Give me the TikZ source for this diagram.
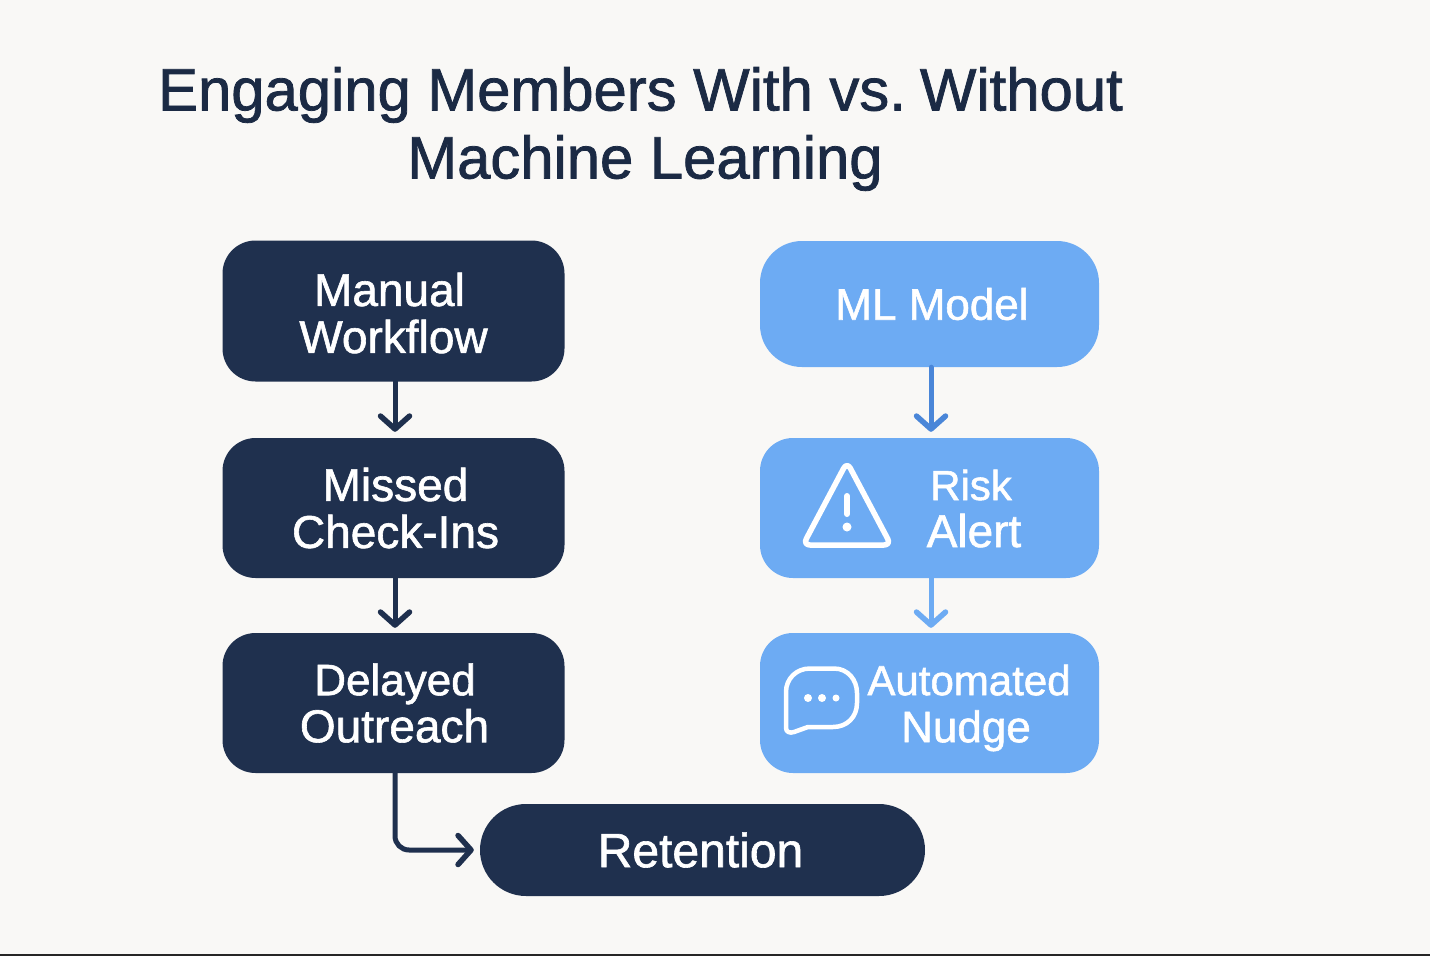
\documentclass[tikz,border=0pt]{standalone}
\usepackage{fontspec}
\setmainfont[FakeBold=1.3]{Liberation Sans}
\usetikzlibrary{arrows.meta}
\definecolor{bg}{HTML}{F9F8F6}
\definecolor{navy}{HTML}{1F304E}
\definecolor{sky}{HTML}{6DABF3}
\definecolor{midblue}{HTML}{4A86D8}
\definecolor{titlec}{HTML}{1B2A44}
\newcommand{\sh}[1]{\hspace*{#1pt}}
\newcommand{\fs}[1]{\fontsize{#1}{47}\selectfont}
\tikzset{x=1pt,y=-1pt,
 box/.style={rounded corners=33pt,inner sep=0,align=center,text=white,font=\fs{46}},
 navybox/.style={box,fill=navy},
 skybox/.style={box,fill=sky},
 arr/.style={line width=5pt,line cap=round,-{Straight Barb[length=13pt,width=29pt,line width=5.5pt,round]}},
 icon/.style={white,line width=5.5pt,line join=round,line cap=round},
}
\begin{document}
\begin{tikzpicture}
\useasboundingbox (0,0) rectangle (1430,956);
\fill[bg] (0,0) rectangle (1430,956);
\fill[black!85] (0,954) rectangle (1430,956);
\node[text=titlec,font=\fontsize{59.8}{68}\selectfont,align=center,anchor=center] (title) at (640.5,129) {Engaging Members With vs.\kern-2.5pt\ Without\\\sh{9}Machine Learning};
\node[navybox,minimum width=342pt,minimum height=141pt] (a1) at (393.5,311) {};
\node[box] (a1t) at (393.5,313) {\sh{-8}Manual\\Workflow};
\node[navybox,minimum width=342pt,minimum height=140pt] (a2) at (393.5,508) {\sh{4}Missed\\\sh{4}Check-Ins};
\node[navybox,minimum width=342pt,minimum height=140pt] (a3) at (393.5,703) {\sh{3}\fs{44}Delayed\\\sh{2}\fs{46}Outreach};
\node[navybox,minimum width=445pt,minimum height=92pt,rounded corners=46pt] (ret) at (702.5,850) {\sh{-4}\fs{48}Retention};
\node[skybox,minimum width=339pt,minimum height=126pt,rounded corners=42pt] (b1) at (929.5,304) {\sh{5}\fs{44}ML Model};
\node[skybox,minimum width=339pt,minimum height=140pt] (b2) at (929.5,508) {};
\node[skybox,minimum width=339pt,minimum height=140pt] (b3) at (929.5,703) {};
\node[text=white,font=\fs{46},align=center] (b2t) at (973,508.5) {\sh{-4}\fs{42}Risk\\\sh{2}\fs{46}Alert};
\node[text=white,font=\fs{44},align=center] (b3t) at (968,708) {\sh{2}\fs{42}Automated\\\sh{-4}\fs{44}Nudge};
\draw[arr,navy] ([xshift=1.5pt]a1.south) -- ([xshift=1.5pt,yshift=6pt]a2.north);
\draw[arr,navy] ([xshift=1.5pt]a2.south) -- ([xshift=1.5pt,yshift=5pt]a3.north);
\draw[arr,midblue] ([xshift=1.5pt]b1.south) -- ([xshift=1.5pt,yshift=6pt]b2.north);
\draw[arr,sky] ([xshift=1.5pt]b2.south) -- ([xshift=1.5pt,yshift=5pt]b3.north);
\draw[arr,navy,rounded corners=14pt] ([xshift=1.5pt]a3.south) -- ([xshift=1.5pt]a3.south |- ret.west) -- ([xshift=-6pt]ret.west);
\draw[icon,rounded corners=7pt] (847,462) -- (891,545) -- (803,545) -- cycle;
\draw[icon,line width=6pt] (847,496) -- (847,514);
\fill[white] (847,527) circle (4.5pt);
\draw[icon,line width=4.5pt] (810,668.5) -- (834,668.5) .. controls (848,668.5) and (857,680) .. (857,693) -- (857,703) .. controls (857,717) and (847,727) .. (833,727) -- (808,727) -- (794,732) .. controls (790,733.5) and (786,732) .. (786,728) -- (786,692) .. controls (786,679) and (796,668.5) .. (810,668.5) -- cycle;
\fill[white] (808,698) circle (4pt) (822,698) circle (4pt) (836,698) circle (3.5pt);
\end{tikzpicture}
\end{document}
